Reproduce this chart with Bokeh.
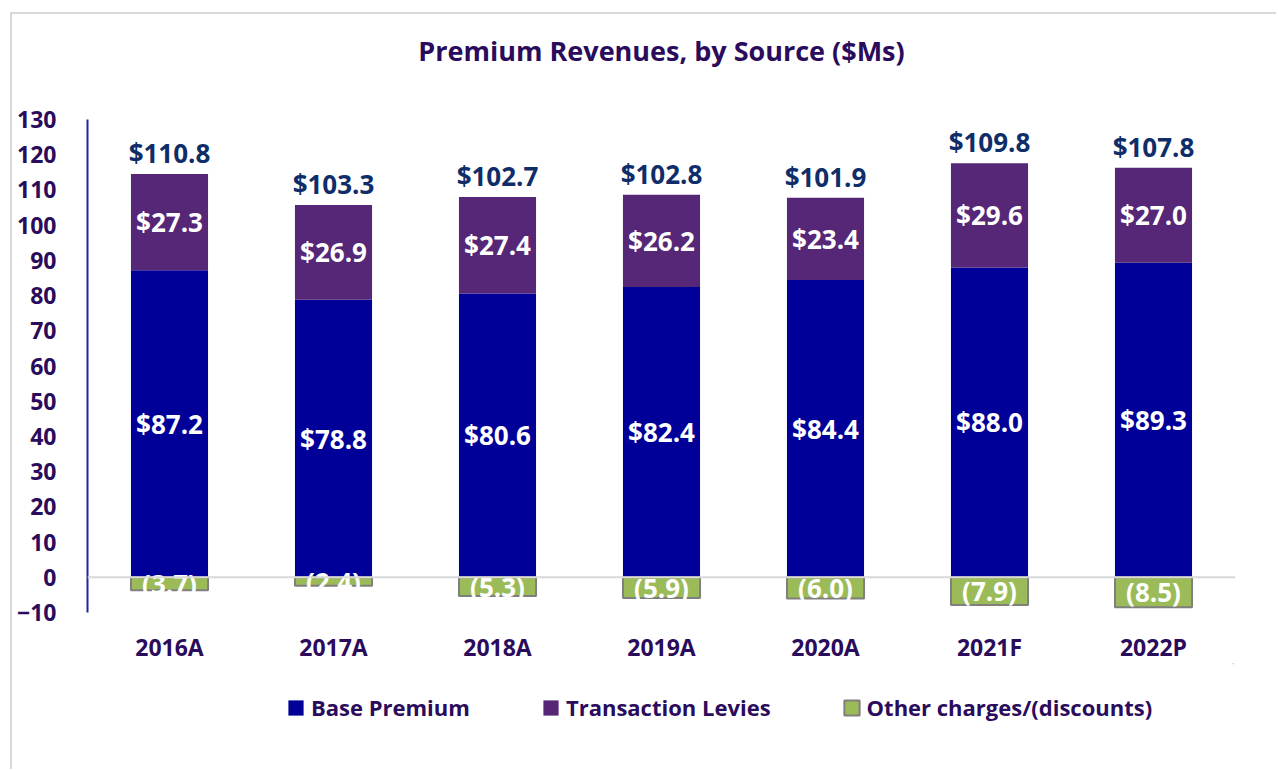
from bokeh.plotting import figure
from bokeh.layouts import column
from bokeh.models import ColumnDataSource, Span, Legend, LegendItem, FixedTicker, FactorRange, Range1d
from bokeh.embed import file_html
from bokeh.resources import INLINE
from bokeh.core.properties import value

categories = ["2016A", "2017A", "2018A", "2019A", "2020A", "2021F", "2022P"]
base_premium = [87.2, 78.8, 80.6, 82.4, 84.4, 88.0, 89.3]
transaction_levies = [27.3, 26.9, 27.4, 26.2, 23.4, 29.6, 27.0]
other_charges = [-3.7, -2.4, -5.3, -5.9, -6.0, -7.9, -8.5]
totals = [110.8, 103.3, 102.7, 102.8, 101.9, 109.8, 107.8]
series_names = ["Base Premium", "Transaction Levies", "Other charges/(discounts)"]
y_ticks = list(range(-10, 131, 10))

BASE_C = "#000099"
LEV_C = "#562677"
OTH_C = "#9BBB59"
TXT_C = "#2A0B5C"
TOT_C = "#0F2D69"
FONT = "Open Sans"

src = ColumnDataSource(dict(
    cat=categories,
    base=base_premium,
    levies=transaction_levies,
    other=other_charges,
    base_mid=[b / 2 for b in base_premium],
    lev_mid=[b + l / 2 for b, l in zip(base_premium, transaction_levies)],
    oth_mid=[o / 2 for o in other_charges],
    top=[b + l for b, l in zip(base_premium, transaction_levies)],
    base_lbl=["$%.1f" % v for v in base_premium],
    lev_lbl=["$%.1f" % v for v in transaction_levies],
    oth_lbl=["(%.1f)" % abs(v) for v in other_charges],
    tot_lbl=["$%.1f" % v for v in totals],
))

p = figure(x_range=FactorRange(*categories, range_padding=0),
           y_range=Range1d(-10, 130),
           frame_width=1146, frame_height=491, output_backend="svg", toolbar_location=None,
           min_border_left=75, min_border_right=43, min_border_top=105, min_border_bottom=52,
           title="Premium Revenues, by Source ($Ms)\n", margin=(12, 0, 0, 10))
p.styles = {"border-top": "2px solid #d9d9d9", "border-left": "2px solid #d9d9d9"}

p.title.text_font = FONT
p.title.text_font_style = "bold"
p.title.text_font_size = "27px"
p.title.text_color = TXT_C
p.title.align = "center"
p.title.standoff = 28

p.vbar_stack(["base", "levies"], x="cat", width=0.47, source=src,
             fill_color=[BASE_C, LEV_C], line_color=None)
p.vbar(x="cat", top="other", bottom=0, width=0.47, source=src,
       fill_color=OTH_C, line_color="#7F7F7F", line_width=2)

p.add_layout(Span(location=0, dimension="width", line_color="#d9d9d9", line_width=2))

common = dict(x="cat", source=src, text_font=value(FONT), text_font_style="bold",
              text_font_size="26px", text_align="center", text_baseline="middle")
p.text(y="base_mid", text="base_lbl", text_color="white", **common)
p.text(y="lev_mid", text="lev_lbl", text_color="white", **common)
p.text(y="oth_mid", text="oth_lbl", text_color="white", **common)
p.text(y="top", text="tot_lbl", text_color=TOT_C, y_offset=-21, **common)

p.xgrid.visible = False
p.ygrid.visible = False
p.outline_line_color = None

p.yaxis.ticker = FixedTicker(ticks=y_ticks)
p.yaxis.axis_line_color = "#2424a0"
p.yaxis.axis_line_width = 2
p.yaxis.major_tick_line_color = None
p.yaxis.minor_tick_line_color = None
p.yaxis.major_label_standoff = 25
p.xaxis.axis_line_color = None
p.xaxis.major_tick_line_color = None
p.xaxis.minor_tick_line_color = None
p.xaxis.major_label_standoff = 12
for ax in (p.xaxis, p.yaxis):
    ax.major_label_text_font = FONT
    ax.major_label_text_font_style = "bold"
    ax.major_label_text_font_size = "23px"
    ax.major_label_text_color = TXT_C

# legend strip below the chart (swatch renderers sit outside the visible range)
lf = figure(width=1264, height=106, x_range=Range1d(0, 1), y_range=Range1d(0, 1),
            output_backend="svg", toolbar_location=None,
            x_axis_location=None, y_axis_location=None,
            min_border=0, margin=(0, 0, 0, 10))
lf.styles = {"border-left": "2px solid #d9d9d9"}
lf.outline_line_color = None
lf.xgrid.visible = False
lf.ygrid.visible = False
lr_base = lf.vbar(x=[5], top=[6], bottom=[5], width=0.1, fill_color=BASE_C, line_color=None)
lr_lev = lf.vbar(x=[5], top=[6], bottom=[5], width=0.1, fill_color=LEV_C, line_color=None)
lr_oth = lf.vbar(x=[5], top=[6], bottom=[5], width=0.1, fill_color=OTH_C,
                 line_color="#7F7F7F", line_width=2)

legend = Legend(items=[LegendItem(label=series_names[0], renderers=[lr_base]),
                       LegendItem(label=series_names[1], renderers=[lr_lev]),
                       LegendItem(label=series_names[2], renderers=[lr_oth])],
                location=(199, 47), orientation="horizontal",
                glyph_width=19, glyph_height=19, label_standoff=6, spacing=71,
                padding=0, margin=0, border_line_color=None, background_fill_alpha=0,
                label_text_font=FONT, label_text_font_style="bold",
                label_text_font_size="22px", label_text_color=TXT_C)
lf.add_layout(legend)

layout = column(p, lf, spacing=0)
open("out.html", "w").write(file_html(layout, INLINE))
